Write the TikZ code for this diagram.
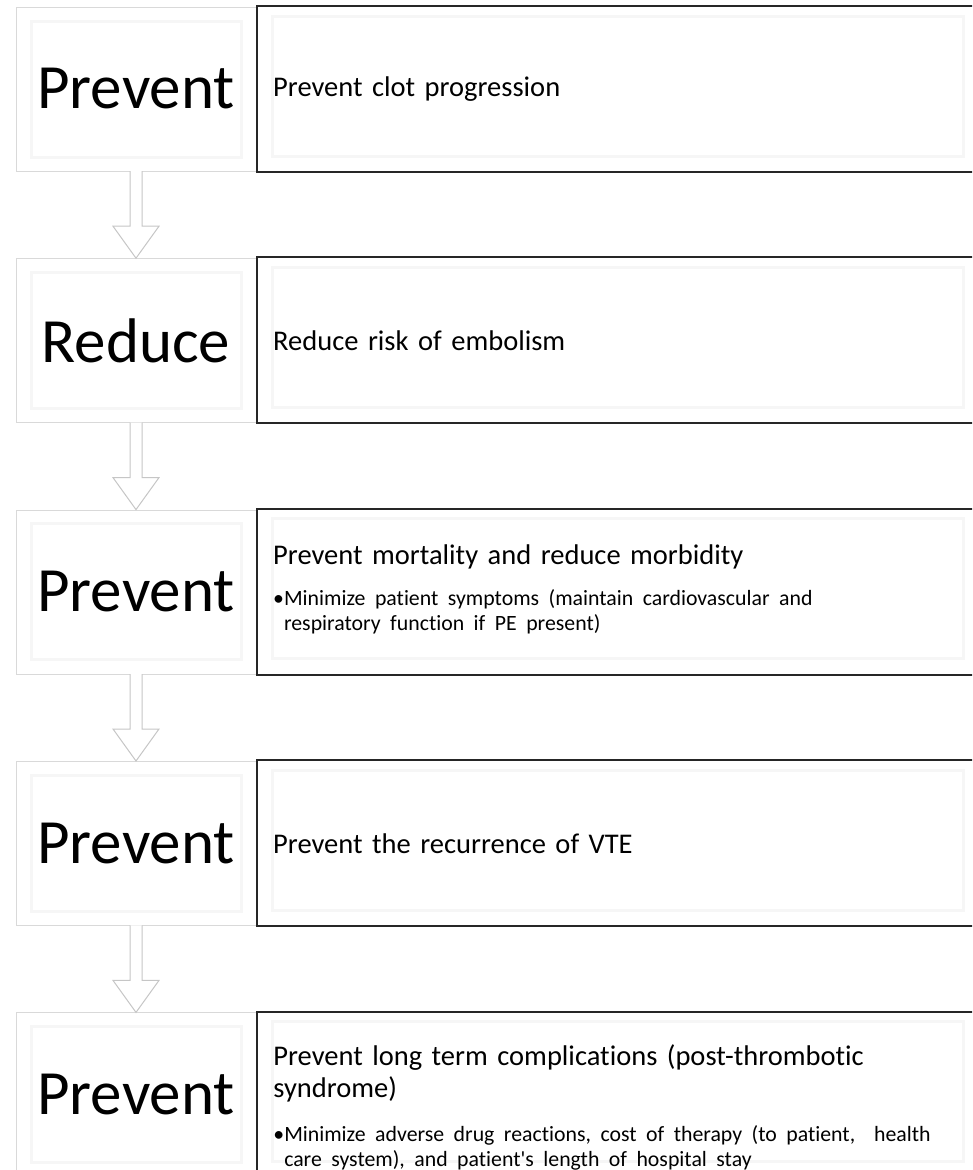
\documentclass[tikz,border=0pt]{standalone}
\usepackage{fontspec}
\setmainfont{Carlito}[Ligatures={NoCommon}]
\usetikzlibrary{positioning,calc}
\tikzstyle{goal} = [rectangle, draw=gray!30, fill=white, minimum width=240pt,
    minimum height=164pt, inner sep=0pt, font=\fontsize{63}{75}\selectfont,
    path picture={\draw[gray!7, line width=3pt] ([shift={(15pt,14pt)}]path picture bounding box.south west)
      rectangle ([shift={(-15pt,-14pt)}]path picture bounding box.north east);}]
\tikzstyle{detail} = [rectangle, draw=black!85, line width=2pt, fill=white, minimum width=722pt,
    minimum height=166pt, inner xsep=16pt, text width=690pt, align=left, font=\fontsize{28.5}{32}\selectfont,
    path picture={\draw[gray!7, line width=3pt] ([shift={(15pt,16pt)}]path picture bounding box.south west)
      rectangle ([shift={(-16pt,-10pt)}]path picture bounding box.north east);}]
\tikzstyle{note} = [inner sep=0pt, text width=690pt, align=left, font=\fontsize{28.5}{32}\selectfont]
\tikzstyle{hollow} = [draw=gray!45, fill=white, line width=1pt, line join=miter]
\newcommand{\subpoint}{\fontsize{21.8}{25}\selectfont}

\begin{document}
\begin{tikzpicture}[x=1pt,y=1pt]
    \useasboundingbox (0,0) rectangle (972,-1170);
    \clip (0,0) rectangle (972,-1170);
    % Place nodes
    \node[goal] (g1) at (136,-89) {Prevent};
    \node[goal, below=87pt of g1] (g2) {Reduce};
    \node[goal, below=87pt of g2] (g3) {Prevent};
    \node[goal, below=87pt of g3] (g4) {Prevent};
    \node[goal, below=87pt of g4] (g5) {Prevent};
    \node[detail, right=0pt of g1] (d1) {Prevent clot progression};
    \node[detail, right=0pt of g2] (d2) {Reduce risk of embolism};
    \node[detail, right=0pt of g3] (d3) {Prevent mortality and reduce morbidity\par\vspace{16pt}
        {\subpoint\textbullet\begin{tabular}[t]{@{}l@{}}Minimize patient symptoms (maintain cardiovascular and\\
        respiratory function if PE present)\end{tabular}\par}};
    \node[detail, right=0pt of g4] (d4) {Prevent the recurrence of VTE};
    \node[detail, right=0pt of g5] (d5) {};
    \node[note, anchor=north west] (t5) at ($(d5.north west)+(17,-34)$) {Prevent long term complications (post-thrombotic\\
        syndrome)\par\vspace{19pt}
        {\subpoint\textbullet\begin{tabular}[t]{@{}l@{}}Minimize adverse drug reactions, cost of therapy (to patient, \ health\\
        care system), and patient\textquotesingle s length of hospital stay\end{tabular}\par}};
    % Draw edges
    \foreach \a/\b in {g1/g2,g2/g3,g3/g4,g4/g5}
        \draw[hollow] ($(\a.south)+(-6,0)$) -- ++(0,-55) -- ++(-17,0) -- (\b.north)
            -- ($(\a.south)+(23,-55)$) -- ++(-17,0) -- ($(\a.south)+(6,0)$);
\end{tikzpicture}
\end{document}
